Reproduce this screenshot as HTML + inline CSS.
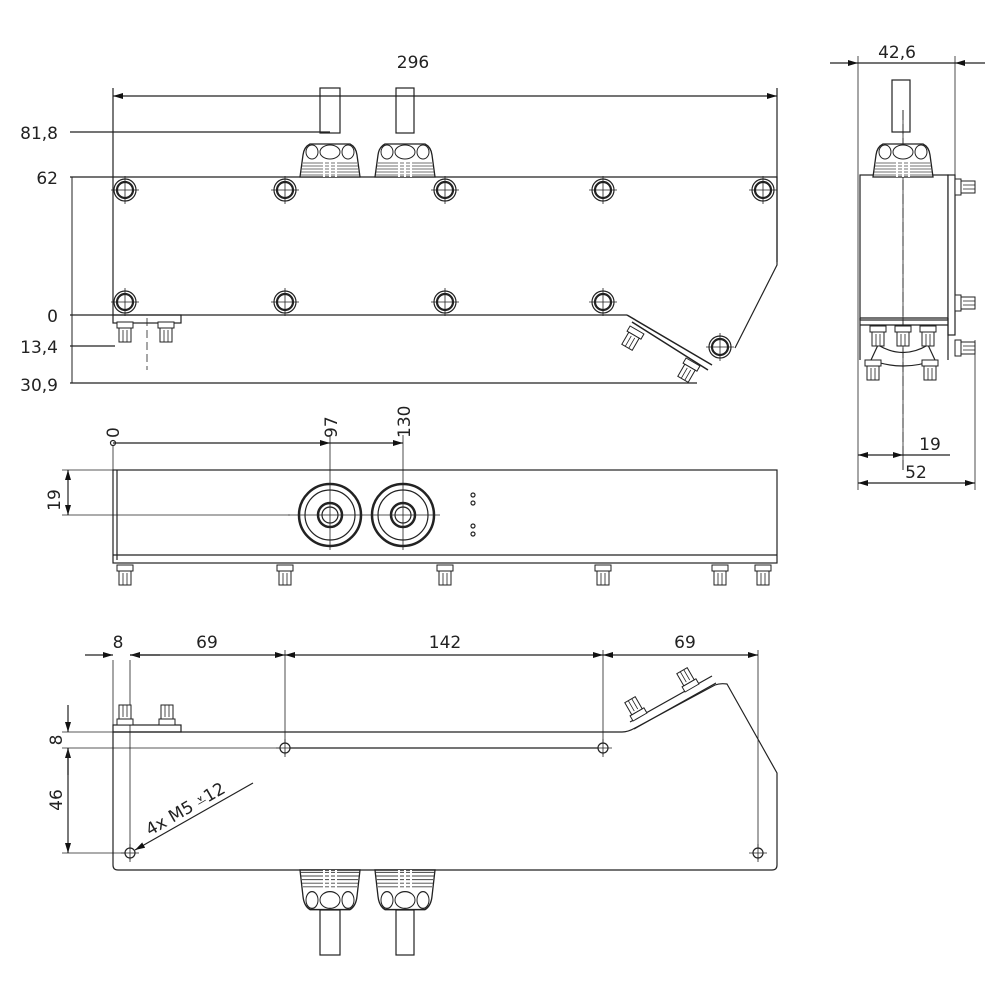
<!DOCTYPE html>
<html><head><meta charset="utf-8"><style>
html,body{margin:0;padding:0;background:#fff}
svg{display:block}
text{font-family:"DejaVu Sans","Liberation Sans",sans-serif;font-size:17px;fill:#222}
</style></head><body>
<svg width="1000" height="1000" viewBox="0 0 1000 1000" xmlns="http://www.w3.org/2000/svg">
<defs>
<marker id="a" viewBox="0 0 10 6" refX="10" refY="3" markerWidth="10" markerHeight="6" orient="auto-start-reverse" markerUnits="userSpaceOnUse"><path d="M0,0 L10,3 L0,6 z" fill="#111"/></marker>
<g id="bolt"><circle r="11" fill="#fff" stroke="#222" stroke-width="1.2"/><circle r="8" fill="none" stroke="#222" stroke-width="2.2"/><path d="M-14,0H14M0,-14V14" stroke="#222" stroke-width="0.8"/></g>
<g id="hole"><circle r="5" fill="#fff" stroke="#222" stroke-width="1.2"/><path d="M-9,0H9M0,-9V9" stroke="#222" stroke-width="0.8"/></g>
<g id="gland"><path d="M-30,0 L-27,-22 Q-26,-30 -20,-33 L20,-33 Q26,-30 27,-22 L30,0 Z" fill="#fff" stroke="#222" stroke-width="1.3"/>
<ellipse cx="0" cy="-25" rx="10" ry="7" fill="none" stroke="#222"/><ellipse cx="-18" cy="-25" rx="6" ry="7" fill="none" stroke="#222"/><ellipse cx="18" cy="-25" rx="6" ry="7" fill="none" stroke="#222"/>
<path d="M-27,-14H27M-28,-11H28M-28,-8H28M-29,-5H29M-29,-2H29" stroke="#444" stroke-width="0.8"/>
<path d="M-6,-15V0M0,-15V0M6,-15V0" stroke="#fff" stroke-width="2"/></g>
<g id="stud"><rect x="-8" y="0" width="16" height="6" fill="#fff" stroke="#222"/><rect x="-6" y="6" width="12" height="14" fill="#fff" stroke="#222"/><path d="M-2,8V20M2,8V20" stroke="#222" stroke-width="0.8"/></g>
</defs>
<g fill="none" stroke="#222" stroke-width="1.2">
<!-- TOP VIEW -->
<path d="M113,177 H777 V265 L735,348 M113,177 V315 H627"/>
<path d="M627,315 L712,365 M632,322 L708,370" stroke-width="1.5"/>
<path d="M70,383 H697 M70,346 H115 M70,132 H330 M70,177 H113 M70,315 H113"/>
<path d="M113,88 V177 M777,88 V262"/>
<line x1="113" y1="96" x2="777" y2="96" marker-start="url(#a)" marker-end="url(#a)"/>
<line x1="72" y1="177" x2="72" y2="383" stroke-width="1"/>
<path d="M147,318 V370" stroke-dasharray="8,4" stroke-width="0.8"/>
<rect x="113" y="315" width="68" height="8"/>
<rect x="320" y="88" width="20" height="45"/><rect x="396" y="88" width="18" height="45"/>
</g>
<use href="#gland" x="330" y="177"/><use href="#gland" x="405" y="177"/>
<use href="#stud" x="125" y="322"/><use href="#stud" x="166" y="322"/>
<g transform="translate(637,330) rotate(30)"><use href="#stud" x="0" y="0"/></g>
<g transform="translate(693,362) rotate(30)"><use href="#stud" x="0" y="0"/></g>
<use href="#bolt" x="125" y="190"/><use href="#bolt" x="285" y="190"/><use href="#bolt" x="445" y="190"/><use href="#bolt" x="603" y="190"/><use href="#bolt" x="763" y="190"/>
<use href="#bolt" x="125" y="302"/><use href="#bolt" x="285" y="302"/><use href="#bolt" x="445" y="302"/><use href="#bolt" x="603" y="302"/>
<use href="#bolt" x="720" y="347"/>
<text x="413" y="68" text-anchor="middle">296</text>
<text x="58" y="139" text-anchor="end">81,8</text>
<text x="58" y="184" text-anchor="end">62</text>
<text x="58" y="322" text-anchor="end">0</text>
<text x="58" y="353" text-anchor="end">13,4</text>
<text x="58" y="391" text-anchor="end">30,9</text>

<!-- SIDE VIEW -->
<g fill="none" stroke="#222" stroke-width="1.2">
<rect x="860" y="175" width="88" height="145" fill="#fff"/>
<rect x="948" y="175" width="7" height="160" fill="#fff"/>
<path d="M860,318 H948 M860,325 H948 M860,318 V360 M948,318 V360"/>
<path d="M878,345 Q903,360 928,345 L935,360 Q903,372 871,360 Z"/>
<path d="M858,56 V490 M955,56 V180 M975,340 V490 M903,110 V470" stroke-width="0.8"/>
<line x1="903" y1="110" x2="903" y2="470" stroke-dasharray="10,4" stroke-width="0.8"/>
<line x1="830" y1="63" x2="858" y2="63" marker-end="url(#a)"/><line x1="985" y1="63" x2="955" y2="63" marker-end="url(#a)"/><line x1="858" y1="63" x2="955" y2="63"/>
<line x1="858" y1="455" x2="903" y2="455" marker-start="url(#a)" marker-end="url(#a)"/><line x1="903" y1="455" x2="950" y2="455"/>
<line x1="858" y1="483" x2="975" y2="483" marker-start="url(#a)" marker-end="url(#a)"/>
<rect x="892" y="80" width="18" height="52"/>
</g>
<use href="#gland" x="903" y="177"/>
<g transform="translate(955,187) rotate(-90)"><use href="#stud"/></g>
<g transform="translate(955,303) rotate(-90)"><use href="#stud"/></g>
<g transform="translate(955,348) rotate(-90)"><use href="#stud"/></g>
<use href="#stud" x="873" y="360"/><use href="#stud" x="930" y="360"/>
<use href="#stud" x="878" y="326"/><use href="#stud" x="903" y="326"/><use href="#stud" x="928" y="326"/>
<text x="897" y="58" text-anchor="middle">42,6</text>
<text x="930" y="450" text-anchor="middle">19</text>
<text x="916" y="478" text-anchor="middle">52</text>

<!-- MIDDLE VIEW -->
<g fill="none" stroke="#222" stroke-width="1.2">
<rect x="113" y="470" width="664" height="93"/>
<path d="M113,555 H777 M117,470 V560"/>
<circle cx="113" cy="443" r="2.5"/>
<line x1="113" y1="443" x2="330" y2="443" marker-end="url(#a)"/><line x1="330" y1="443" x2="403" y2="443" marker-end="url(#a)"/>
<path d="M330,435 V550 M403,435 V550 M113,446 V470 M288,515 H440" stroke-width="0.8"/>
<path d="M62,470 H113 M62,515 H290" stroke-width="0.8"/>
<line x1="68" y1="470" x2="68" y2="515" marker-start="url(#a)" marker-end="url(#a)"/>
<circle cx="330" cy="515" r="31" stroke-width="2.5"/><circle cx="330" cy="515" r="25"/><circle cx="330" cy="515" r="12" stroke-width="2.5"/><circle cx="330" cy="515" r="8"/>
<circle cx="403" cy="515" r="31" stroke-width="2.5"/><circle cx="403" cy="515" r="25"/><circle cx="403" cy="515" r="12" stroke-width="2.5"/><circle cx="403" cy="515" r="8"/>
<circle cx="473" cy="495" r="2"/><circle cx="473" cy="503" r="2"/><circle cx="473" cy="526" r="2"/><circle cx="473" cy="534" r="2"/>
</g>
<use href="#stud" x="125" y="565"/><use href="#stud" x="285" y="565"/><use href="#stud" x="445" y="565"/><use href="#stud" x="603" y="565"/><use href="#stud" x="720" y="565"/><use href="#stud" x="763" y="565"/>
<text x="113" y="438" transform="rotate(-90 113 438)" dy="6">0</text>
<text x="337" y="438" transform="rotate(-90 337 438)">97</text>
<text x="410" y="438" transform="rotate(-90 410 438)">130</text>
<text x="60" y="500" transform="rotate(-90 60 500)" text-anchor="middle">19</text>

<!-- BOTTOM VIEW -->
<g fill="none" stroke="#222" stroke-width="1.2">
<path d="M113,732 H622 Q628,732 635,728 L715,685 Q720,683 727,684 L777,773 V865 Q777,870 772,870 H118 Q113,870 113,865 V732"/>
<path d="M630,722 L712,676 M634,729 L716,683"/>
<rect x="113" y="725" width="68" height="7"/>
<path d="M285,748 H603" />
<path d="M130,660 V860 M113,660 V730 M285,650 V755 M603,650 V755 M758,650 V860" stroke-width="0.8"/>
<path d="M62,732 H113 M62,748 H285 M62,853 H130" stroke-width="0.8"/>
<line x1="85" y1="655" x2="113" y2="655" marker-end="url(#a)"/><line x1="160" y1="655" x2="130" y2="655" marker-end="url(#a)"/>
<line x1="130" y1="655" x2="285" y2="655" marker-end="url(#a)"/><line x1="285" y1="655" x2="603" y2="655" marker-start="url(#a)" marker-end="url(#a)"/>
<line x1="603" y1="655" x2="758" y2="655" marker-start="url(#a)" marker-end="url(#a)"/>
<line x1="68" y1="705" x2="68" y2="732" marker-end="url(#a)"/><line x1="68" y1="775" x2="68" y2="748" marker-end="url(#a)"/>
<line x1="68" y1="748" x2="68" y2="853" marker-end="url(#a)"/>
<line x1="253" y1="783" x2="135" y2="850" marker-end="url(#a)"/>
<rect x="320" y="910" width="20" height="45"/><rect x="396" y="910" width="18" height="45"/>
</g>
<use href="#hole" x="130" y="853"/><use href="#hole" x="285" y="748"/><use href="#hole" x="603" y="748"/><use href="#hole" x="758" y="853"/>
<g transform="translate(330,870) scale(1,-1.2)"><use href="#gland"/></g>
<g transform="translate(405,870) scale(1,-1.2)"><use href="#gland"/></g>
<g transform="translate(125,725) scale(1,-1)"><use href="#stud"/></g>
<g transform="translate(167,725) scale(1,-1)"><use href="#stud"/></g>
<g transform="translate(640,717) rotate(-30) scale(1,-1)"><use href="#stud"/></g>
<g transform="translate(692,688) rotate(-30) scale(1,-1)"><use href="#stud"/></g>
<text x="118" y="648" text-anchor="middle">8</text>
<text x="207" y="648" text-anchor="middle">69</text>
<text x="445" y="648" text-anchor="middle">142</text>
<text x="685" y="648" text-anchor="middle">69</text>
<text x="62" y="740" transform="rotate(-90 62 740)" text-anchor="middle">8</text>
<text x="62" y="800" transform="rotate(-90 62 800)" text-anchor="middle">46</text>
<text x="150" y="836" transform="rotate(-30 150 836)">4x M5  ⩡12</text>
</svg>
</body></html>
